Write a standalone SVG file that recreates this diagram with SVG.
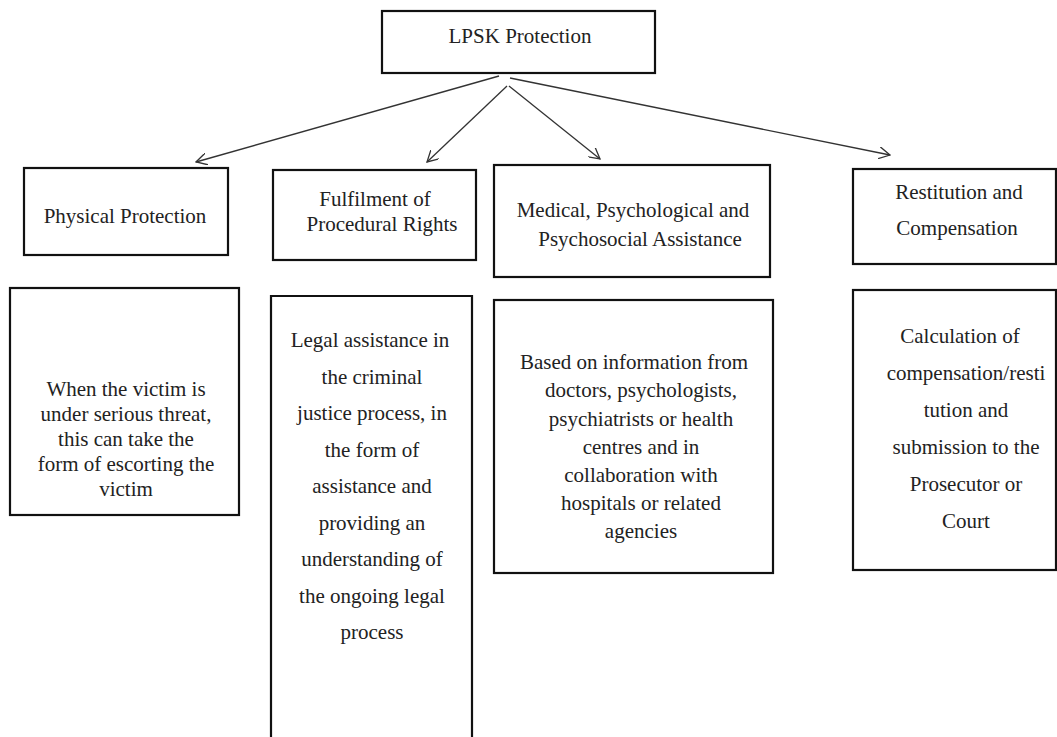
<svg xmlns="http://www.w3.org/2000/svg" width="1057" height="737" viewBox="0 0 1057 737">
<defs>
<style>
.box{fill:#fff;stroke:#111;stroke-width:2.2}
text{font-family:'Liberation Serif',serif;font-size:21px;fill:#222;text-anchor:middle}
.c{stroke:#333;stroke-width:1.3;fill:none;marker-end:url(#arr)}
</style>
<marker id="arr" viewBox="0 0 12 12" refX="11" refY="6" markerWidth="12" markerHeight="12" markerUnits="userSpaceOnUse" orient="auto">
<path d="M0,0 L11,6 L0,12" fill="none" stroke="#333" stroke-width="1.3"/>
</marker>
</defs>
<rect width="1057" height="737" fill="#fff"/>
<g id="connectors">
<line class="c" x1="499" y1="76" x2="196" y2="162"/>
<line class="c" x1="507" y1="86" x2="427" y2="162"/>
<line class="c" x1="509" y1="86" x2="600" y2="159"/>
<line class="c" x1="510" y1="78" x2="890" y2="155"/>
</g>
<g id="root">
<rect class="box" x="382" y="11" width="273" height="62"/>
<text x="520" y="43">LPSK Protection</text>
</g>
<g id="physical">
<rect class="box" x="24" y="168" width="204" height="87"/>
<text x="125" y="223">Physical Protection</text>
</g>
<g id="procedural">
<rect class="box" x="273" y="170" width="203" height="90"/>
<text x="375" y="206">Fulfilment of</text>
<text x="382" y="231">Procedural Rights</text>
</g>
<g id="medical">
<rect class="box" x="494" y="165" width="276" height="112"/>
<text x="633" y="217">Medical, Psychological and</text>
<text x="640" y="246">Psychosocial Assistance</text>
</g>
<g id="restitution">
<rect class="box" x="853" y="169" width="203" height="95"/>
<text x="959" y="199">Restitution and</text>
<text x="957" y="235">Compensation</text>
</g>
<g id="physical-detail">
<rect class="box" x="10" y="288" width="229" height="227"/>
<text x="126" y="396">When the victim is</text>
<text x="126" y="421">under serious threat,</text>
<text x="126" y="446">this can take the</text>
<text x="126" y="471">form of escorting the</text>
<text x="126" y="496">victim</text>
</g>
<g id="procedural-detail">
<path class="box" d="M271,745 V296 H472 V745"/>
<text x="370" y="347">Legal assistance in</text>
<text x="372" y="384">the criminal</text>
<text x="372" y="420">justice process, in</text>
<text x="372" y="457">the form of</text>
<text x="372" y="493">assistance and</text>
<text x="372" y="530">providing an</text>
<text x="372" y="566">understanding of</text>
<text x="372" y="603">the ongoing legal</text>
<text x="372" y="639">process</text>
</g>
<g id="medical-detail">
<rect class="box" x="494" y="300" width="279" height="273"/>
<text x="634" y="369">Based on information from</text>
<text x="641" y="397">doctors, psychologists,</text>
<text x="641" y="426">psychiatrists or health</text>
<text x="641" y="454">centres and in</text>
<text x="641" y="482">collaboration with</text>
<text x="641" y="510">hospitals or related</text>
<text x="641" y="538">agencies</text>
</g>
<g id="restitution-detail">
<rect class="box" x="853" y="290" width="203" height="280"/>
<text x="960" y="343">Calculation of</text>
<text x="966" y="380">compensation/resti</text>
<text x="966" y="417">tution and</text>
<text x="966" y="454">submission to the</text>
<text x="966" y="491">Prosecutor or</text>
<text x="966" y="528">Court</text>
</g>
</svg>
